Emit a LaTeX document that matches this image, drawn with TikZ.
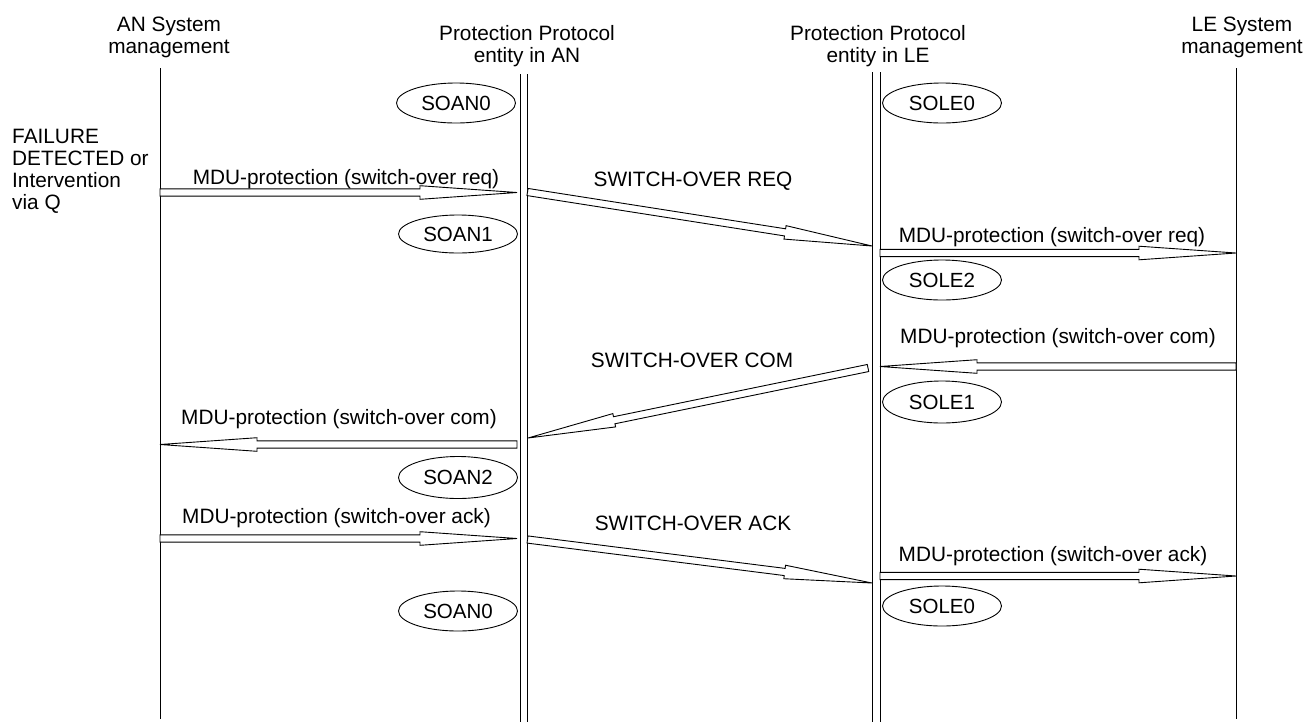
\documentclass[tikz,border=0pt]{standalone}
\usepackage{fontspec}
\setmainfont{Liberation Sans}
\usetikzlibrary{calc,shapes.geometric}
\tikzset{
  txt/.style={font=\fontsize{20.8}{22}\selectfont, inner sep=0pt},
  lbl/.style={txt, anchor=base},
  head/.style={txt, align=center, anchor=north},
  state/.style={draw, ellipse, line width=0.9pt, minimum width=119pt, minimum height=40pt, inner sep=0pt, font=\fontsize{20.5}{22}\selectfont},
  life/.style={line width=1pt},
  harr/.style={draw, line width=0.9pt, fill=white, line join=miter},
}
\newcommand\harrow[3][97]{%
  \path[harr] let \p1=(#2), \p2=(#3),
    \n1={atan2(\y2-\y1,\x2-\x1)},
    \n2={veclen(\x2-\x1,\y2-\y1)-#1pt} in
    ($(\p1)+({\n1+90}:3.6pt)$)
    -- ($(\p1)+(\n1:\n2)+({\n1+90}:3.6pt)$)
    -- ($(\p1)+(\n1:\n2)+({\n1+90}:6.8pt)$)
    -- (\p2)
    -- ($(\p1)+(\n1:\n2)+({\n1-90}:6.8pt)$)
    -- ($(\p1)+(\n1:\n2)+({\n1-90}:3.6pt)$)
    -- ($(\p1)+({\n1-90}:3.6pt)$) -- cycle;}
\begin{document}
\begin{tikzpicture}[x=1pt,y=-1pt]
\useasboundingbox (0,0) rectangle (1314,724);
% headers
\node[head] (hAN) at (169,17) {AN System\\management};
\node[head] (hPAN) at (527,25) {Protection Protocol\\entity in AN};
\node[head] (hPLE) at (878,25) {Protection Protocol\\entity in LE};
\node[head] (hLE) at (1242,17) {LE System\\management};
\node[txt, align=left, anchor=north west] (fail) at (12,129.3) {FAILURE\\DETECTED or\\Intervention\\via Q};
% lifelines
\coordinate (L1t) at (160,68);   \coordinate (L1b) at (160,719);
\coordinate (L2at) at (520,74);  \coordinate (L2ab) at (520,722);
\coordinate (L2bt) at (527.5,74);\coordinate (L2bb) at (527.5,722);
\coordinate (L3at) at (872,72);  \coordinate (L3ab) at (872,722);
\coordinate (L3bt) at (880,72);  \coordinate (L3bb) at (880,722);
\coordinate (L4t) at (1236,68);  \coordinate (L4b) at (1236,719);
\draw[life] (L1t) -- (L1b);
\draw[life] (L2at) -- (L2ab);
\draw[life] (L2bt) -- (L2bb);
\draw[life] (L3at) -- (L3ab);
\draw[life] (L3bt) -- (L3bb);
\draw[life] (L4t) -- (L4b);
% states
\node[state] (soan0a) at (456,103) {SOAN0};
\node[state] (sole0a) at (942,103) {SOLE0};
\node[state, minimum height=38pt] (soan1) at (458,234) {SOAN1};
\node[state] (sole2) at (942,280) {SOLE2};
\node[state, minimum height=42pt] (sole1) at (942,402) {SOLE1};
\node[state, minimum height=42pt] (soan2) at (458,477.5) {SOAN2};
\node[state] (soan0b) at (458,611) {SOAN0};
\node[state] (sole0b) at (942,606) {SOLE0};
% message end points
\coordinate (a1s) at (160,192.5);  \coordinate (a1e) at (517,192.5);
\coordinate (a2s) at (527.5,192);  \coordinate (a2e) at (872,246);
\coordinate (a3s) at (880,253);    \coordinate (a3e) at (1236,253);
\coordinate (a4s) at (1236,366.5); \coordinate (a4e) at (880,366.5);
\coordinate (a5s) at (868,368);    \coordinate (a5e) at (528,438);
\coordinate (a6s) at (517,444.5);  \coordinate (a6e) at (160,444.5);
\coordinate (a7s) at (160,538.5);  \coordinate (a7e) at (517,538.5);
\coordinate (a8s) at (527.5,539.5);\coordinate (a8e) at (872,583);
\coordinate (a9s) at (880,576);    \coordinate (a9e) at (1236,576);
\harrow{a1s}{a1e}
\harrow[88]{a2s}{a2e}
\harrow{a3s}{a3e}
\harrow{a4s}{a4e}
\harrow[88]{a5s}{a5e}
\harrow{a6s}{a6e}
\harrow{a7s}{a7e}
\harrow[88]{a8s}{a8e}
\harrow{a9s}{a9e}
% labels
\node[lbl] (m1) at (346,184) {MDU-protection (switch-over req)};
\node[lbl] (m2) at (693,186) {SWITCH-OVER REQ};
\node[lbl] (m3) at (1052,242) {MDU-protection (switch-over req)};
\node[lbl] (m4) at (1058,343) {MDU-protection (switch-over com)};
\node[lbl] (m5) at (692,367) {SWITCH-OVER COM};
\node[lbl] (m6) at (339,424) {MDU-protection (switch-over com)};
\node[lbl] (m7) at (336.5,523) {MDU-protection (switch-over ack)};
\node[lbl] (m8) at (693,530) {SWITCH-OVER ACK};
\node[lbl] (m9) at (1053,561) {MDU-protection (switch-over ack)};
\end{tikzpicture}
\end{document}
